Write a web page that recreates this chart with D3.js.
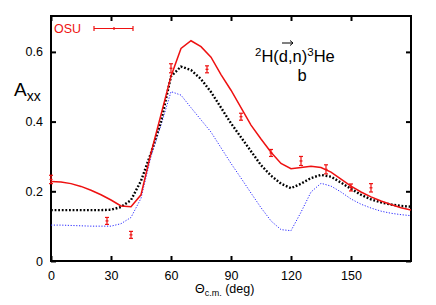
<!DOCTYPE html>
<html>
<head>
<meta charset="utf-8">
<script src="https://cdn.jsdelivr.net/npm/d3@7"></script>
<style>
  body { margin: 0; background: #fff; }
  text { font-family: "Liberation Sans", Arial, sans-serif; }
</style>
</head>
<body>
<svg id="chart"></svg>
<script>
//Angles of the calculated curves (deg)
var theta = [0, 5, 10, 15, 20, 25, 30, 35, 40, 45, 50, 55, 60, 65, 70, 75, 80, 85, 90,
    95, 100, 105, 110, 115, 120, 125, 130, 135, 140, 145, 150, 155, 160, 165, 170, 175, 180];

//Red solid curve
var redAxx = [0.228, 0.227, 0.222, 0.214, 0.203, 0.19, 0.175, 0.158, 0.156, 0.19, 0.31, 0.42,
    0.53, 0.61, 0.632, 0.615, 0.585, 0.535, 0.49, 0.44, 0.39, 0.35, 0.312, 0.28, 0.265, 0.268,
    0.272, 0.268, 0.255, 0.235, 0.215, 0.198, 0.184, 0.172, 0.162, 0.153, 0.146];

//Black dotted curve
var blackAxx = [0.146, 0.146, 0.146, 0.146, 0.146, 0.146, 0.147, 0.155, 0.175, 0.23, 0.31, 0.40,
    0.53, 0.558, 0.548, 0.522, 0.485, 0.44, 0.395, 0.355, 0.315, 0.275, 0.245, 0.222, 0.209, 0.222,
    0.238, 0.247, 0.242, 0.225, 0.207, 0.19, 0.177, 0.168, 0.162, 0.158, 0.156];

//Blue dotted curve
var blueAxx = [0.103, 0.103, 0.102, 0.101, 0.1, 0.1, 0.1, 0.107, 0.125, 0.18, 0.3, 0.39,
    0.486, 0.476, 0.44, 0.405, 0.37, 0.325, 0.28, 0.238, 0.195, 0.153, 0.115, 0.09, 0.087, 0.14,
    0.198, 0.223, 0.215, 0.198, 0.178, 0.163, 0.152, 0.143, 0.137, 0.133, 0.13];

//OSU measured points
var osuTheta = [0, 28, 40, 60, 78, 95, 110, 125, 137.5, 150, 160];
var osuAxx = [0.234, 0.115, 0.075, 0.553, 0.55, 0.414, 0.31, 0.287, 0.263, 0.211, 0.21];
var osuErr = [0.012, 0.01, 0.01, 0.013, 0.01, 0.01, 0.01, 0.013, 0.013, 0.01, 0.012];

//Tick labels
var xTicks = [0, 30, 60, 90, 120, 150];
var yTicks = [0, 0.2, 0.4, 0.6];

var svgWidth = 436;
var svgHeight = 305;
var plotL = 51, plotR = 411, plotT = 16, plotB = 261;

var svg = d3.select("#chart")
    .attr("width", svgWidth)
    .attr("height", svgHeight);

var x = d3.scaleLinear([0, 180], [plotL, plotR]);
var y = d3.scaleLinear([0, 0.703], [plotB, plotT]);

//Axes, ticks pointing inward
svg.append("g")
    .attr("transform", "translate(0," + plotB + ")")
    .call(d3.axisBottom(x).tickValues(xTicks).tickSizeInner(-5).tickSizeOuter(0).tickPadding(10));
svg.append("g")
    .attr("transform", "translate(0," + plotT + ")")
    .call(d3.axisTop(x).tickValues(xTicks).tickSizeInner(-5).tickSizeOuter(0).tickFormat(""));
svg.append("g")
    .attr("transform", "translate(" + plotL + ",0)")
    .call(d3.axisLeft(y).tickValues(yTicks).tickSizeInner(-5).tickSizeOuter(0).tickPadding(8)
        .tickFormat(function (d) { return d === 0 ? "0" : d3.format(".1f")(d); }));
svg.append("g")
    .attr("transform", "translate(" + plotR + ",0)")
    .call(d3.axisRight(y).tickValues(yTicks).tickSizeInner(-5).tickSizeOuter(0).tickFormat(""));

svg.selectAll(".domain").remove();
svg.selectAll(".tick line").attr("stroke", "#000").attr("stroke-width", 2);
svg.selectAll(".tick text").attr("font-size", 12.5).attr("fill", "#000")
    .style("font-family", "Liberation Sans, Arial, sans-serif");

//Frame
svg.append("rect")
    .attr("x", plotL).attr("y", plotT)
    .attr("width", plotR - plotL).attr("height", plotB - plotT)
    .attr("fill", "none").attr("stroke", "#000").attr("stroke-width", 2);

//Curves
svg.append("clipPath").attr("id", "clip")
    .append("rect").attr("x", plotL).attr("y", plotT)
    .attr("width", plotR - plotL).attr("height", plotB - plotT);

var line = d3.line()
    .x(function (d) { return x(d[0]); })
    .y(function (d) { return y(d[1]); });

function curve(vals, color, width, dash) {
    svg.append("path")
        .datum(theta.map(function (t, i) { return [t, vals[i]]; }))
        .attr("d", line)
        .attr("fill", "none")
        .attr("stroke", color)
        .attr("stroke-width", width)
        .attr("stroke-dasharray", dash)
        .attr("clip-path", "url(#clip)");
}
curve(blueAxx, "#2b2bff", 1, "1.2,1.6");
curve(blackAxx, "#000", 2.4, "1.8,1.8");
curve(redAxx, "#ee1111", 1.5, null);

//Error bars
var pts = svg.append("g").attr("stroke", "#ee1111").attr("stroke-width", 1.2);
osuTheta.forEach(function (t, i) {
    var cx = x(t), y1 = y(osuAxx[i] - osuErr[i]), y2 = y(osuAxx[i] + osuErr[i]);
    pts.append("line").attr("x1", cx).attr("x2", cx).attr("y1", y1).attr("y2", y2);
    pts.append("line").attr("x1", cx - 2).attr("x2", cx + 2).attr("y1", y1).attr("y2", y1);
    pts.append("line").attr("x1", cx - 2).attr("x2", cx + 2).attr("y1", y2).attr("y2", y2);
    pts.append("line").attr("x1", cx - 1.5).attr("x2", cx + 1.5)
        .attr("y1", y(osuAxx[i])).attr("y2", y(osuAxx[i]));
});

//Legend
svg.append("text").attr("x", 54).attr("y", 32.5)
    .attr("font-size", 12.5).attr("fill", "#ee1111").text("OSU");
var leg = svg.append("g").attr("stroke", "#ee1111").attr("stroke-width", 1.2);
leg.append("line").attr("x1", 94).attr("x2", 133).attr("y1", 28.5).attr("y2", 28.5);
leg.append("line").attr("x1", 94).attr("x2", 94).attr("y1", 26).attr("y2", 31);
leg.append("line").attr("x1", 133).attr("x2", 133).attr("y1", 26).attr("y2", 31);
leg.append("line").attr("x1", 114).attr("x2", 114).attr("y1", 27).attr("y2", 30);

//Y label
var yl = svg.append("text").attr("x", 14).attr("y", 96).attr("font-size", 19);
yl.append("tspan").text("A");
yl.append("tspan").attr("font-size", 14).attr("dy", 5).text("xx");

//X label
var xl = svg.append("text").attr("x", 195).attr("y", 293).attr("font-size", 12.5);
xl.append("tspan").text("\u0398");
xl.append("tspan").attr("font-size", 9).attr("dy", 3).text("c.m.");
xl.append("tspan").attr("dy", -3).text(" (deg)");

//Reaction annotation
var ann = svg.append("text").attr("x", 255).attr("y", 62).attr("font-size", 16.5);
ann.append("tspan").attr("font-size", 11.5).attr("dy", -6).text("2");
ann.append("tspan").attr("dy", 6).text("H(d,n)");
ann.append("tspan").attr("font-size", 11.5).attr("dy", -6).text("3");
ann.append("tspan").attr("dy", 6).text("He");
svg.append("text").attr("x", 302).attr("y", 81).attr("font-size", 16.5)
    .attr("text-anchor", "middle").text("b");
//Arrow over the d
var ax = 282, ay = 43;
svg.append("line").attr("x1", ax).attr("x2", ax + 11).attr("y1", ay).attr("y2", ay)
    .attr("stroke", "#000").attr("stroke-width", 1);
svg.append("path").attr("d", "M" + (ax + 8) + "," + (ay - 2.5) + "L" + (ax + 11) + "," + ay + "L" + (ax + 8) + "," + (ay + 2.5))
    .attr("fill", "none").attr("stroke", "#000").attr("stroke-width", 1);
</script>
</body>
</html>
